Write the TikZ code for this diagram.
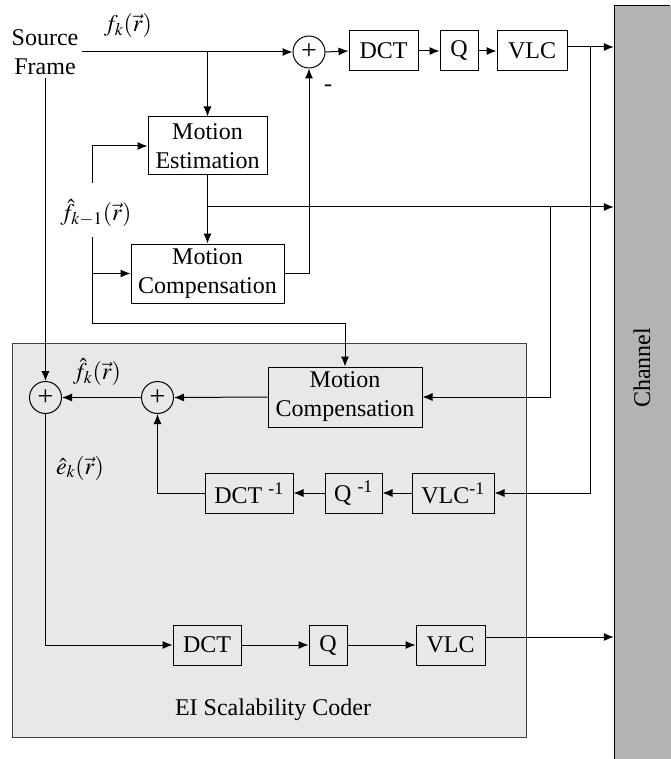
\documentclass[tikz,border=0pt]{standalone}
\usepackage{mathptmx}
\usepackage[no-math]{fontspec}
\setmainfont{Liberation Serif}
\usetikzlibrary{arrows.meta,calc}
\newcommand\blkfont{\fontsize{24}{29}\selectfont}
\definecolor{chgray}{HTML}{B3B3B3}
\definecolor{eigray}{HTML}{E8E8E8}
\definecolor{eiedge}{HTML}{404040}
\tikzset{
  wire/.style={line width=1pt},
  arr/.style={wire,-{Latex[length=10pt,width=8pt]}},
  blk/.style={draw,line width=1pt,inner sep=0pt,align=center,font=\blkfont},
  sumnode/.style={draw,circle,line width=1pt,minimum size=32pt,inner sep=0pt,
    font=\fontsize{28}{28}\selectfont},
  lbl/.style={font=\blkfont,inner sep=2pt},
}
\begin{document}
\begin{tikzpicture}[x=1pt,y=-1pt]
\useasboundingbox (0,0) rectangle (670,759);

% transmission channel
\node[fill=chgray,minimum width=62pt,minimum height=760pt,inner sep=0pt] (ch) at (645,386) {};
\draw[wire] (614,759) -- (614,6) -- (670,6);
\node[lbl,rotate=90] (chlbl) at (642,368) {Channel};

% enhancement layer enclosure
\node[draw=eiedge,fill=eigray,line width=1pt,minimum width=514pt,minimum height=394pt,inner sep=0pt] (ei) at (269,540) {};
\node[lbl] (eilbl) at (273,710) {EI Scalability Coder};

% base layer encoder
\node[lbl,align=center,inner sep=3pt] (src) at (45,52) {Source\\Frame};
\node[lbl] (fk) at (128,26) {$f_k(\vec r)$};
\node[sumnode] (s1) at (309,52) {+};
\node[blk,minimum width=69pt,minimum height=40pt] (dct1) at (383.5,51) {DCT};
\node[blk,minimum width=38pt,minimum height=40pt] (q1) at (459,51) {Q};
\node[blk,minimum width=70pt,minimum height=40pt] (vlc1) at (532,51) {VLC};
\node[blk,minimum width=119pt,minimum height=58pt] (me) at (207.5,146) {Motion\\Estimation};
\node[blk,minimum width=153pt,minimum height=59pt] (mc1) at (207.5,273.5) {Motion\\Compensation};
\node[lbl] (minus) at (328,88) {-};
\node[lbl] (fkm) at (96,213) {$\hat f_{k-1}(\vec r)$};

% enhancement layer blocks
\node[sumnode] (s2) at (45.5,397.5) {+};
\node[sumnode] (s3) at (157.5,397.5) {+};
\node[blk,minimum width=154pt,minimum height=60pt] (mc2) at (345,397) {Motion\\Compensation};
\node[lbl] (fhk) at (97,372) {$\hat f_k(\vec r)$};
\node[lbl] (ehk) at (80,468) {$\hat e_k(\vec r)$};
\node[blk,minimum width=88pt,minimum height=40pt] (dct2) at (249,493) {DCT \textsuperscript{-1}};
\node[blk,minimum width=57pt,minimum height=40pt] (q2) at (353.5,493) {Q \textsuperscript{-1}};
\node[blk,minimum width=82pt,minimum height=40pt] (vlc2) at (453,493) {VLC\textsuperscript{-1}};
\node[blk,minimum width=68pt,minimum height=40pt] (dct3) at (207,645) {DCT};
\node[blk,minimum width=38pt,minimum height=40pt] (q3) at (328,645) {Q};
\node[blk,minimum width=69pt,minimum height=40pt] (vlc3) at (450.5,645) {VLC};

% junctions and free ends
\coordinate (j1) at (207.5,52);
\coordinate (j2) at (207.5,207);
\coordinate (j3) at (550,207);
\coordinate (j4) at (590,47);
\coordinate (fa) at (92,183);
\coordinate (fb) at (92,237);
\coordinate (fc) at (92,323);
\coordinate (o1) at ($(vlc1.east)+(0,-4)$);
\coordinate (o3) at ($(vlc3.east)+(0,-8)$);

% base layer connections
\draw[arr] (src.east) -- (s1.west);
\draw[arr] (j1) -- (me.north);
\draw[arr] (s1.east) -- (dct1.west);
\draw[arr] (dct1.east) -- (q1.west);
\draw[arr] (q1.east) -- (vlc1.west);
\draw[arr] (o1) -- (o1 -| ch.west);
\draw[arr] (me.south) -- (mc1.north);
\draw[arr] (j2) -- (j2 -| ch.west);
\draw[arr] (mc1.east) -| (s1.south);
\draw[arr] (fa) |- (me.west);
\draw[arr] (fb |- mc1.west) -- (mc1.west);
\draw[arr] (fb) -- (fc) -| (mc2.north);

% enhancement layer connections
\draw[arr] (src.south -| s2) -- (s2.north);
\draw[arr] (mc2.west) -- (s3.east);
\draw[arr] (s3.west) -- (s2.east);
\draw[arr] (j3) |- (mc2.east);
\draw[arr] (j4) |- (vlc2.east);
\draw[arr] (vlc2.west) -- (q2.east);
\draw[arr] (q2.west) -- (dct2.east);
\draw[arr] (dct2.west) -| (s3.south);
\draw[arr] (s2.south) |- (dct3.west);
\draw[arr] (dct3.east) -- (q3.west);
\draw[arr] (q3.east) -- (vlc3.west);
\draw[arr] (o3) -- (o3 -| ch.west);
\end{tikzpicture}
\end{document}
